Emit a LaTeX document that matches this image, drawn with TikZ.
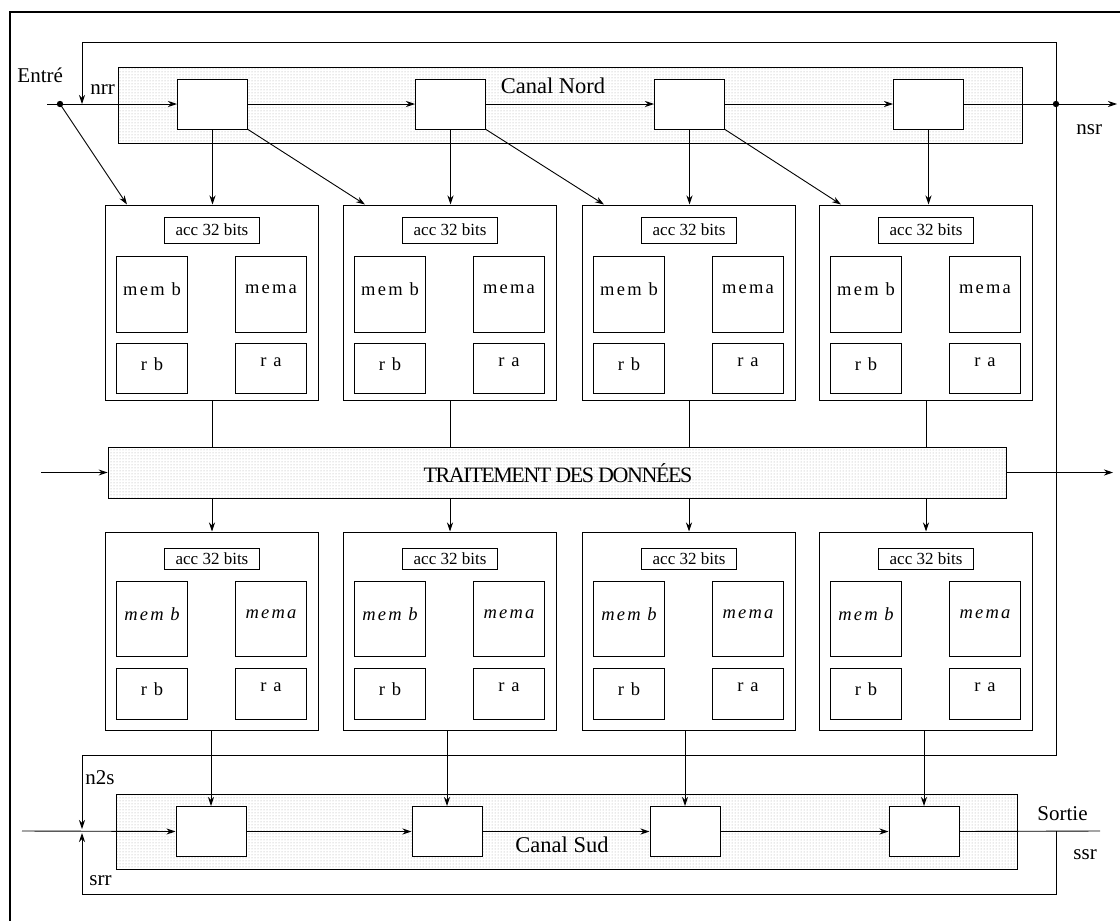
\documentclass[tikz,border=0pt]{standalone}
\usepackage{fontspec}
\setmainfont{Liberation Serif}
\newfontfamily\spaced[LetterSpace=12]{Liberation Serif}
\newfontfamily\tightf[LetterSpace=-6.5]{Liberation Serif}
\usetikzlibrary{arrows.meta,patterns}
\begin{document}
\begin{tikzpicture}[x=1pt,y=-1pt,
  every path/.style={line width=0.9pt},
  arr/.style={-{Stealth[length=9pt,width=6pt]}},
  band/.style={draw, line width=0.8pt, pattern=dots, pattern color=gray!70, inner sep=0},
  reg/.style={draw, fill=white, line width=1pt, minimum width=70pt, minimum height=50pt, inner sep=0},
  pebox/.style={draw, line width=1pt, minimum width=213pt, inner sep=0},
  accbox/.style={draw, line width=1pt, minimum width=95pt, inner sep=0, font=\fontsize{17}{19}\selectfont},
  membox/.style={draw, line width=1pt, minimum width=71pt, minimum height=76pt, inner sep=0},
  rbox/.style={draw, line width=1pt, minimum width=71pt, minimum height=50pt, inner sep=0},
  intxt/.style={inner sep=0, font=\spaced\fontsize{18.5}{20}\selectfont},
  initxt/.style={inner sep=0, font=\spaced\itshape\fontsize{18.5}{20}\selectfont},
  lbl/.style={inner sep=0, font=\fontsize{21}{23}\selectfont},
  big/.style={inner sep=0, font=\fontsize{22.5}{25}\selectfont}
]
\useasboundingbox (0,0) rectangle (1120,921);
% outer frame (partial)
\draw[line width=2.2pt] (10,930) -- (10,12) -- (1130,12);

% ---------------- Canal Nord
\node[band, minimum width=904pt, minimum height=76pt] (cn) at (570,105) {};
\node[big] (cntxt) at (553,86) {Canal Nord};
\foreach \i/\x in {1/212.5,2/450.5,3/689.5,4/928.5}{
  \node[reg] (r\i) at (\x,104) {};
}
\coordinate (ein) at (47,104);
\coordinate (edot) at (60,104);
\coordinate (jn) at (1056,104);
\coordinate (nout) at (1117,104);
\draw[arr] (ein) -- (r1.west);
\draw[arr] (r1.east) -- (r2.west);
\draw[arr] (r2.east) -- (r3.west);
\draw[arr] (r3.east) -- (r4.west);
\draw[arr] (r4.east) -- (nout);
\fill (edot) circle (3.2);
\fill (jn) circle (3.2);
\node[lbl, anchor=base west] (entre) at (17,82) {Entré};
\node[lbl, anchor=base west] (nrr) at (90,94) {nrr};
\node[lbl, anchor=base west] (nsr) at (1076,134) {nsr};

% nrr loop
\coordinate (nrr1) at (1056,42);
\coordinate (nrr2) at (82,42);
\coordinate (nrrtip) at (82,104);
\draw[arr] (jn) -- (nrr1) -- (nrr2) -- (nrrtip);

% ---------------- top PEs
\foreach \i/\c in {1/212,2/450,3/689,4/926}{
  \node[pebox, minimum height=195pt] (pe\i) at (\c,302.5) {};
  \node[accbox, minimum height=26pt] (acc\i) at (\c,230) {acc 32 bits};
  \node[membox] (mb\i) at (\c-60,294) {};
  \node[membox] (ma\i) at (\c+59,294) {};
  \node[rbox] (rb\i) at (\c-60,368) {};
  \node[rbox] (ra\i) at (\c+59,368) {};
  \node[intxt] (tmb\i) at (\c-60,289) {mem b};
  \node[intxt] (tma\i) at (\c+59,289) {mema};
  \node[intxt] (trb\i) at (\c-60,364) {r b};
  \node[intxt] (tra\i) at (\c+59,362) {r a};
  \draw[arr] (r\i.south) -- (r\i.south |- pe\i.north);
}
\draw[arr] (edot) -- ([xshift=22pt]pe1.north west);
\draw[arr] (r1.south east) -- ([xshift=22pt]pe2.north west);
\draw[arr] (r2.south east) -- ([xshift=22pt]pe3.north west);
\draw[arr] (r3.south east) -- ([xshift=22pt]pe4.north west);

% ---------------- Traitement
\node[band, minimum width=898pt, minimum height=51pt] (tr) at (557,472.5) {};
\node[inner sep=0, font=\tightf\fontsize{22}{24}\selectfont] (trtxt) at (558,473) {TRAITEMENT DES DONNÉES};
\coordinate (trin) at (41,472.5);
\coordinate (trout) at (1113,472.5);
\draw[arr] (trin) -- (tr.west);
\draw[arr] (tr.east) -- (trout);
\foreach \i in {1,2,3,4}{
  \draw (pe\i.south) -- (pe\i.south |- tr.north);
}

% ---------------- bottom PEs
\foreach \i/\c in {5/212,6/450,7/689,8/926}{
  \node[pebox, minimum height=198pt] (pe\i) at (\c,631) {};
  \node[accbox, minimum height=21pt] (acc\i) at (\c,559) {acc 32 bits};
  \node[membox, minimum height=75pt] (mb\i) at (\c-60,618.5) {};
  \node[membox, minimum height=75pt] (ma\i) at (\c+59,618.5) {};
  \node[rbox, minimum height=51pt] (rb\i) at (\c-60,693.5) {};
  \node[rbox, minimum height=51pt] (ra\i) at (\c+59,693.5) {};
  \node[initxt] (tmb\i) at (\c-60,614) {mem b};
  \node[initxt] (tma\i) at (\c+59,614) {mema};
  \node[intxt] (trb\i) at (\c-60,689) {r b};
  \node[intxt] (tra\i) at (\c+59,687) {r a};
  \draw[arr] (pe\i.north |- tr.south) -- (pe\i.north);
}

% ---------------- Canal Sud
\node[band, minimum width=901pt, minimum height=75pt] (cs) at (566.5,831.5) {};
\node[big] (cstxt) at (562,845) {Canal Sud};
\foreach \i/\j/\x in {1/5/211,2/6/447,3/7/685,4/8/924}{
  \node[reg] (s\i) at (\x,831.5) {};
  \draw[arr] (s\i.north |- pe\j.south) -- (s\i.north);
}
\coordinate (sin) at (22,831);
\coordinate (sout) at (1100,831);
\draw[arr] (sin) -- (s1.west);
\draw[arr] (s1.east) -- (s2.west);
\draw[arr] (s2.east) -- (s3.west);
\draw[arr] (s3.east) -- (s4.west);
\draw (s4.east) -- (sout);

% n2s loop
\coordinate (n2a) at (1056,755);
\coordinate (n2b) at (82,755);
\coordinate (n2tip) at (82,829);
\draw[arr] (jn) -- (n2a) -- (n2b) -- (n2tip);
% srr loop
\coordinate (js) at (1056,831);
\coordinate (sra) at (1056,894);
\coordinate (srb) at (82,894);
\coordinate (srtip) at (82,833);
\draw[arr] (js) -- (sra) -- (srb) -- (srtip);

\node[lbl, anchor=base west] (n2s) at (85,784) {n2s};
\node[lbl, anchor=base west] (srr) at (89,885) {srr};
\node[lbl, anchor=base west] (sortie) at (1037,820) {Sortie};
\node[lbl, anchor=base west] (ssr) at (1073,859) {ssr};
\end{tikzpicture}
\end{document}
